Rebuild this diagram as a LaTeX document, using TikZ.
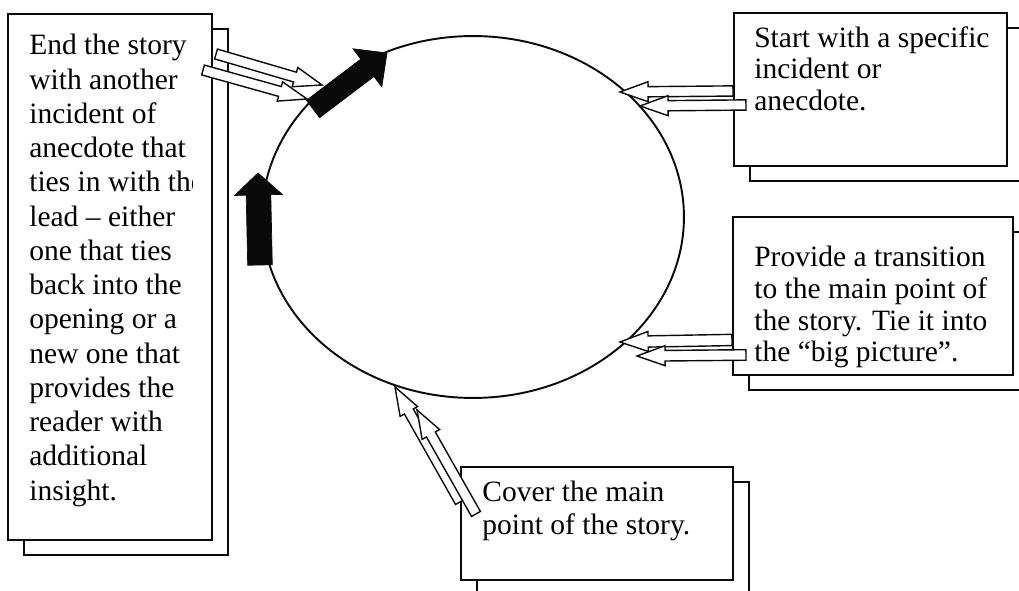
\documentclass[tikz,border=0pt]{standalone}
\usepackage{fontspec}
\setmainfont{Liberation Serif}
\usepackage{xcolor}
\usepackage{tikz}
\usetikzlibrary{positioning, calc, shapes.geometric, shadows}
\definecolor{inkline}{HTML}{0A0A0A}

% block arrow: style, tail, tip, half shaft, half head, head length
\newcommand{\blockarr}[6]{%
  \path ($(#3)!#6!(#2)$) coordinate (ahb);
  \draw[#1] ($(#2)!#4!90:(#3)$) -- ($(ahb)!#4!90:(#3)$) -- ($(ahb)!#5!90:(#3)$) -- (#3)
    -- ($(ahb)!#5!-90:(#3)$) -- ($(ahb)!#4!-90:(#3)$) -- ($(#2)!#4!-90:(#3)$) -- cycle;
}

\tikzset{
  notebox/.style={draw=inkline, fill=white, line width=1.2pt, inner sep=0pt,
    copy shadow={shadow xshift=9pt, shadow yshift=-8.5pt, draw=inkline, fill=white, line width=1.2pt}},
  notetext/.style={inner sep=0pt, anchor=north west, align=left,
    font=\fontsize{16.8}{18}\selectfont},
  hollow/.style={draw=inkline, fill=white, line width=0.8pt, line join=miter},
  solidarr/.style={draw=inkline, fill=inkline, line width=0.4pt}
}

\begin{document}
\begin{tikzpicture}[x=0.02cm, y=-0.02cm]
    \path[clip] (0,0) rectangle (1019,591);

    \node[draw=inkline, ellipse, line width=1.1pt, inner sep=0pt,
          minimum width=8.44cm, minimum height=7.24cm] (story) at (473,217) {};

    % the four notes
    \node[notebox, minimum width=4.08cm, minimum height=10.52cm] (endbox) at (110,277) {};
    \node[notebox, minimum width=5.46cm, minimum height=3.06cm] (startbox) at (870.5,89.5) {};
    \node[notebox, minimum width=5.6cm, minimum height=3.16cm] (transbox) at (873,296) {};
    \node[notebox, minimum width=5.44cm, minimum height=2.26cm] (mainbox) at (597,523.5) {};

    \begin{scope}
      \clip (endbox.north west) rectangle ($(endbox.south east)+(-21,0)$);
      \node[notetext, font=\fontsize{16.8}{19.5}\selectfont,
            below right=0.42cm and 0.44cm of endbox.north west] (endtext) {%
        End the story\\ with another\\ incident of\\ anecdote that\\ ties in with the\\
        lead – either\\ one that ties\\ back into the\\ opening or a\\ new one that\\
        provides the\\ reader with\\ additional\\ insight.};
    \end{scope}
    \node[notetext, below right=0.28cm and 0.42cm of startbox.north west] (starttext) {%
      Start with a specific\\ incident or\\ anecdote.};
    \node[notetext, below right=0.6cm and 0.44cm of transbox.north west] (transtext) {%
      Provide a transition\\ to the main point of\\ the story. Tie it into\\ the “big picture”.};
    \node[notetext, font=\fontsize{16.8}{18.7}\selectfont,
          below right=0.3cm and 0.44cm of mainbox.north west] (maintext) {%
      Cover the main\\ point of the story.};

    % connectors from the notes to the cycle
    \coordinate (s1) at ($(startbox.north west)+(0,79)$);
    \coordinate (s2) at ($(startbox.north west)+(13,93)$);
    \coordinate (t1) at ($(transbox.north west)+(0,124)$);
    \coordinate (t2) at ($(transbox.north west)+(14,139)$);
    \coordinate (m1) at ($(mainbox.north west)+(0,36)$);
    \coordinate (m2) at ($(mainbox.north west)+(16,48)$);
    \coordinate (e1) at ($(endbox.north east)+(3,41)$);
    \coordinate (e2) at ($(endbox.north east)+(-10,57)$);
    \coordinate (s1tip) at (620,92);
    \coordinate (s2tip) at (640,106);
    \coordinate (t1tip) at (620,342);
    \coordinate (t2tip) at (637,356);
    \coordinate (m1tip) at (395,387);
    \coordinate (m2tip) at (417,410);
    \coordinate (e1tip) at (322,85);
    \coordinate (e2tip) at (307,99);

    \blockarr{hollow}{s1}{s1tip}{2.9pt}{5.7pt}{16pt}
    \blockarr{hollow}{s2}{s2tip}{2.9pt}{5.7pt}{16pt}
    \blockarr{hollow}{t1}{t1tip}{3.2pt}{5.7pt}{16pt}
    \blockarr{hollow}{t2}{t2tip}{3pt}{5.7pt}{16pt}
    \blockarr{hollow}{m1}{m1tip}{2.9pt}{5.7pt}{16pt}
    \blockarr{hollow}{m2}{m2tip}{2.9pt}{5.7pt}{16pt}
    \blockarr{hollow}{e1}{e1tip}{2.9pt}{5.7pt}{16pt}
    \blockarr{hollow}{e2}{e2tip}{2.9pt}{5.7pt}{16pt}

    % direction of the cycle
    \coordinate (c1) at (313,109);
    \coordinate (c1tip) at (387,53);
    \coordinate (c2) at (260,265);
    \coordinate (c2tip) at (258,173);
    \blockarr{solidarr}{c1}{c1tip}{6.2pt}{13.6pt}{14pt}
    \blockarr{solidarr}{c2}{c2tip}{7pt}{13.6pt}{12.5pt}
\end{tikzpicture}
\end{document}
